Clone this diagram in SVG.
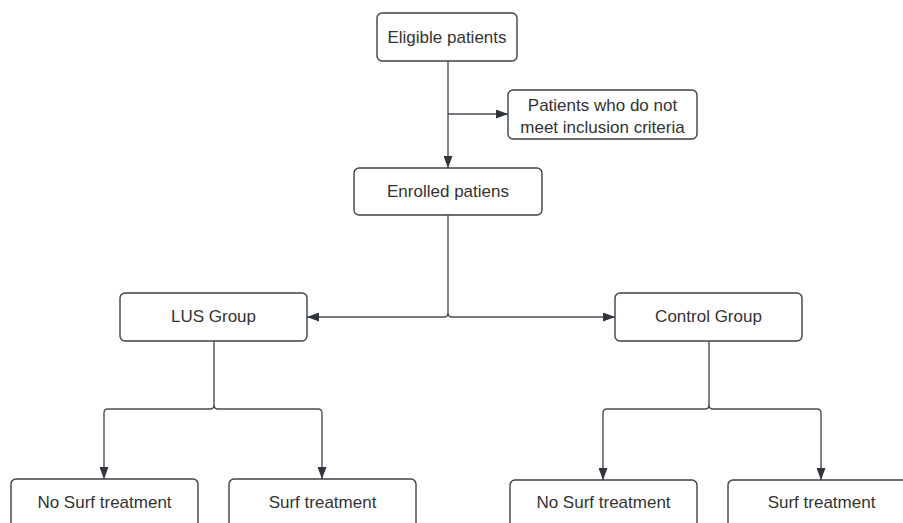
<svg xmlns="http://www.w3.org/2000/svg" width="903" height="523" viewBox="0 0 903 523">
<style>
.box{fill:#ffffff;stroke:#3d424a;stroke-width:1.4}
.lbl{font-family:"Liberation Sans",Arial,sans-serif;font-size:17px;fill:#333333;text-anchor:middle;dominant-baseline:central}
.con{fill:none;stroke:#4a4f57;stroke-width:1.4}
</style>
<defs>
<marker id="arr" viewBox="0 0 12 9" refX="12" refY="4.5" markerWidth="12" markerHeight="9" markerUnits="userSpaceOnUse" orient="auto">
<path d="M0,0 L12,4.5 L0,9 Z" fill="#2f343d"/>
</marker>
</defs>
<rect width="903" height="523" fill="#ffffff"/>
<g id="connectors">
<path class="con" d="M448,61 V168" marker-end="url(#arr)"/>
<path class="con" d="M448,114 H508" marker-end="url(#arr)"/>
<path class="con" d="M448,215 V313 Q448,317 444,317 H307" marker-end="url(#arr)"/>
<path class="con" d="M448,313 Q448,317 452,317 H615" marker-end="url(#arr)"/>
<path class="con" d="M214,341 V405 Q214,409 210,409 H108 Q104,409 104,413 V479" marker-end="url(#arr)"/>
<path class="con" d="M214,405 Q214,409 218,409 H318 Q322,409 322,413 V479" marker-end="url(#arr)"/>
<path class="con" d="M709,341 V405 Q709,409 705,409 H607 Q603,409 603,413 V480" marker-end="url(#arr)"/>
<path class="con" d="M709,405 Q709,409 713,409 H817 Q821,409 821,413 V480" marker-end="url(#arr)"/>
</g>
<g id="eligible">
<rect class="box" x="377" y="13" width="140" height="48" rx="5"/>
<text class="lbl" x="447" y="37">Eligible patients</text>
</g>
<g id="excluded">
<rect class="box" x="508" y="90" width="189" height="49" rx="5"/>
<text class="lbl" x="602.5" y="105">Patients who do not</text>
<text class="lbl" x="602.5" y="127">meet inclusion criteria</text>
</g>
<g id="enrolled">
<rect class="box" x="354" y="168" width="188" height="47" rx="5"/>
<text class="lbl" x="448" y="191">Enrolled patiens</text>
</g>
<g id="lus">
<rect class="box" x="120" y="293" width="187" height="48" rx="5"/>
<text class="lbl" x="213.5" y="316">LUS Group</text>
</g>
<g id="control">
<rect class="box" x="615" y="293" width="187" height="48" rx="5"/>
<text class="lbl" x="708.5" y="316">Control Group</text>
</g>
<g id="lus-nosurf">
<rect class="box" x="11" y="479" width="187" height="50" rx="5"/>
<text class="lbl" x="104.5" y="502">No Surf treatment</text>
</g>
<g id="lus-surf">
<rect class="box" x="229" y="479" width="187" height="50" rx="5"/>
<text class="lbl" x="322.5" y="502">Surf treatment</text>
</g>
<g id="ctrl-nosurf">
<rect class="box" x="510" y="480" width="187" height="50" rx="5"/>
<text class="lbl" x="603.5" y="502">No Surf treatment</text>
</g>
<g id="ctrl-surf">
<rect class="box" x="728" y="480" width="187" height="50" rx="5"/>
<text class="lbl" x="821.5" y="502">Surf treatment</text>
</g>
</svg>
